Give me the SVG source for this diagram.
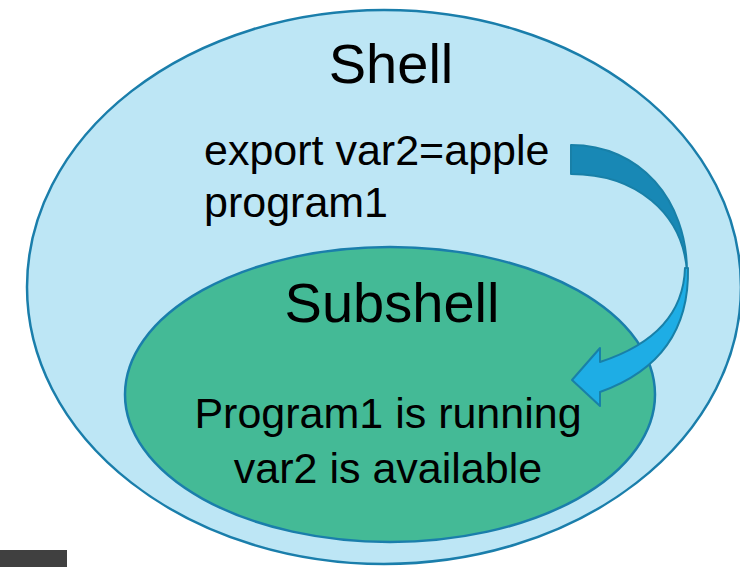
<svg xmlns="http://www.w3.org/2000/svg" width="740" height="567" viewBox="0 0 740 567">
  <style>
    .lbl { font-family: "Liberation Sans", Arial, sans-serif; fill: #000; }
    .title { font-size: 56px; text-anchor: middle; }
    .body { font-size: 43px; }
    .ell { stroke: #1A7EAB; stroke-width: 2.5; }
  </style>
  <rect width="740" height="567" fill="#ffffff"/>
  <rect x="0" y="550" width="67" height="17" fill="#404040"/>
  <g id="shell">
    <ellipse class="ell" cx="384" cy="287" rx="357" ry="277" fill="#BDE6F5"/>
    <text class="lbl title" x="391" y="83">Shell</text>
    <text class="lbl body" x="204" y="165">export var2=apple</text>
    <text class="lbl body" x="204" y="217">program1</text>
  </g>
  <g id="subshell">
    <ellipse class="ell" cx="390" cy="394.5" rx="265" ry="147.5" fill="#44BA96"/>
    <text class="lbl title" x="392" y="322">Subshell</text>
    <text class="lbl body" x="388" y="428" text-anchor="middle">Program1 is running</text>
    <text class="lbl body" x="388" y="483" text-anchor="middle">var2 is available</text>
  </g>
  <g id="connectors" stroke="#1880A8" stroke-width="2" stroke-linejoin="round">
    <path d="M571,145 C640,145 687,200 687,272 C683,212 635,174 571,174 Z" fill="#1888B5"/>
    <path d="M685,268 Q683,335 600,362 L600,348 L572,380 L600,406 L600,392 Q690,360 688,268 Z" fill="#1EADE5"/>
  </g>
</svg>
